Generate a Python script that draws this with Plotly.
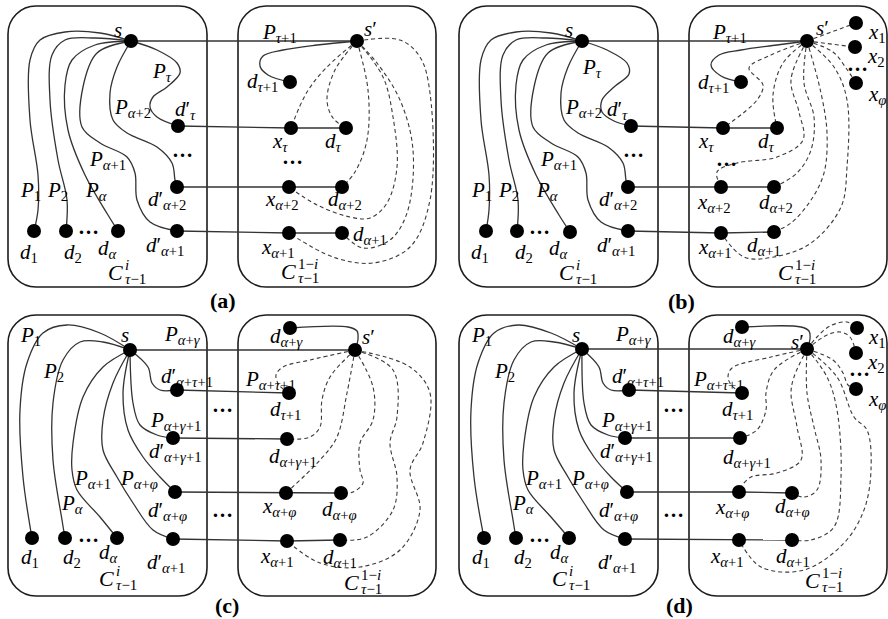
import plotly.graph_objects as go

# ---------------- layout of the four panels (global pixel frame) ----------------
PANEL_ORIGIN = {"a": (0, 0), "b": (451, 0), "c": (0, 309), "d": (451, 309)}
CAPTIONS = {"a": ("(a)", 223, 300), "b": ("(b)", 681, 301), "c": ("(c)", 227, 605), "d": ("(d)", 679, 605)}
LEFT_BOX = (8, 6, 207, 287)
RIGHT_BOX = (238, 6, 436, 287)

# ---------------- nodes (panel-local coordinates) ----------------
NODES_A = {
    "s": (131, 41), "d1": (34, 231), "d2": (66, 231), "da": (118, 231),
    "dpt": (178, 126), "dpa2": (177, 187), "dpa1": (177, 231),
    "sp": (357, 41), "dt1": (290, 82), "xt": (291, 128), "dt": (346, 128),
    "xa2": (289, 187), "da2": (342, 187), "xa1": (289, 233), "da1": (342, 233),
}
NODES_B = {
    "s": (131, 41), "d1": (35, 231), "d2": (66, 231), "da": (119, 232),
    "dpt": (180, 126), "dpa2": (177, 187), "dpa1": (177, 231),
    "sp": (356, 41), "dt1": (290, 82), "xt": (272, 128), "dt": (326, 128),
    "xa2": (270, 187), "da2": (323, 187), "xa1": (270, 233), "da1": (323, 232),
    "x1": (405, 23), "x2": (404, 47), "xf": (405, 83),
}
NODES_C = {
    "s": (130, 41), "d1": (32, 229), "d2": (65, 229), "da": (117, 229),
    "dpt1": (177, 81), "dpg1": (173, 129), "dpf": (175, 183), "dpa1": (173, 230),
    "sp": (355, 41), "dag": (290, 19), "dt1": (289, 84), "dag1": (287, 130),
    "xaf": (286, 184), "daf": (341, 184), "xa1": (287, 232), "da1": (340, 231),
}
NODES_D = {
    "s": (131, 40), "d1": (33, 229), "d2": (65, 229), "da": (118, 229),
    "dpt1": (178, 81), "dpg1": (174, 129), "dpf": (176, 183), "dpa1": (174, 230),
    "sp": (356, 40), "dag": (291, 18), "dt1": (291, 84), "dag1": (289, 129),
    "xaf": (288, 183), "daf": (341, 184), "xa1": (288, 231), "da1": (341, 231),
    "x1": (406, 19), "x2": (405, 44), "xf": (405, 80),
}

# ---------------- edges: waypoints (node names or panel-local points) ----------------
LEFT_AB_SOLID = [
    ["s", (100, 33), (65, 32), (40, 40), (30, 60), (30, 120), (38, 175), (38, 210), "d1"],
    ["s", (95, 38), (65, 40), (52, 55), (50, 100), (58, 160), (67, 200), "d2"],
    ["s", (95, 45), (72, 60), (65, 85), (68, 130), (85, 175), (108, 215), "da"],
    ["s", (97, 53), (83, 87), (82, 127), (100, 143), (127, 157), (135, 173), (137, 200), (150, 222), "dpa1"],
    ["s", (117, 67), (110, 93), (113, 120), (127, 133), (157, 147), (172, 163), (175, 180), "dpa2"],
]
PTAU_A = ["s", (157, 50), (177, 63), (180, 73), (167, 87), (153, 97), (150, 107), (157, 117), "dpt"]
PTAU_B = ["s", (156, 50), (176, 63), (178, 74), (163, 87), (151, 100), (151, 112), (163, 121), "dpt"]
STRAIGHT_AB = [["s", "sp"], ["dpt", "xt", "dt"], ["dpa2", "xa2", "da2"], ["dpa1", "xa1", "da1"]]

A_SOLID = [["sp", (317, 45), (283, 50), (263, 56), (260, 66), (268, 75), "dt1"]]
A_DASHED = [
    ["sp", (327, 67), (307, 92), "xt"],
    ["sp", (335, 70), (327, 100), (333, 118), "dt"],
    ["sp", (368, 90), (367, 140), (355, 172), "da2"],
    ["sp", (383, 77), (393, 117), (397, 167), (387, 203), (370, 218), (350, 217), (317, 205), "xa2"],
    ["sp", (377, 63), (400, 100), (413, 150), (407, 213), (390, 240), (363, 248), "da1"],
    ["sp", (400, 40), (420, 57), (430, 93), (430, 200), (410, 247), (373, 263), (333, 257), "xa1"],
]
B_SOLID = [["sp", (326, 45), (290, 50), (268, 55), (260, 65), (270, 76), "dt1"]]
B_DASHED = [
    ["sp", "x1"],
    ["sp", "x2"],
    ["sp", (382, 52), (395, 68), "xf"],
    ["sp", (320, 55), (298, 68), (312, 85), (306, 100), "xt"],
    ["sp", (332, 63), (322, 95), "dt"],
    ["sp", (340, 80), (348, 112), (352, 140), (326, 157), (286, 163), (266, 172), "xa2"],
    ["sp", (353, 83), (363, 117), (360, 150), (346, 173), "da2"],
    ["sp", (370, 93), (376, 133), (373, 173), (360, 200), (340, 223), "da1"],
    ["sp", (383, 67), (396, 100), (396, 167), (390, 207), (360, 243), (323, 257), (293, 257), "xa1"],
]

LEFT_CD_SOLID = [
    ["s", (100, 24), (67, 16), (43, 24), (27, 54), (20, 101), (23, 168), "d1"],
    ["s", (103, 33), (80, 33), (63, 51), (53, 94), (53, 151), (62, 211), "d2"],
    ["s", (103, 58), (83, 88), (73, 134), (72, 161), (77, 181), (100, 208), "da"],
    ["s", (113, 74), (103, 111), (103, 141), (117, 168), (133, 194), (153, 221), "dpa1"],
    ["s", (123, 84), (128, 121), (143, 148), (160, 168), "dpf"],
    ["s", (133, 94), (140, 116), (157, 126), "dpg1"],
    ["s", (148, 58), (152, 74), (160, 81), "dpt1"],
]
STRAIGHT_CD = [["s", "sp"], ["dpt1", "dt1"], ["dpg1", "dag1"], ["dpf", "xaf", "daf"], ["dpa1", "xa1", "da1"]]
C_SOLID = [["sp", (358, 30), (357, 22), (348, 18), "dag"]]
C_DASHED = [
    ["sp", (310, 51), (283, 58), (276, 66), (279, 76), "dt1"],
    ["sp", (330, 68), (322, 91), (320, 118), (310, 128), "dag1"],
    ["sp", (347, 84), (337, 128), (320, 151), "xaf"],
    ["sp", (373, 78), (373, 111), (360, 134), (360, 161), (363, 174), (353, 183), "daf"],
    ["sp", (393, 61), (397, 108), (390, 134), (397, 168), (393, 201), (367, 228), "da1"],
    ["sp", (410, 58), (430, 84), (423, 134), (410, 161), (420, 201), (400, 241), (360, 258), (320, 254), "xa1"],
]
D_SOLID = [["sp", (359, 30), (358, 22), (350, 18), "dag"]]
D_DASHED = [
    ["sp", (366, 28), (379, 17), (396, 13), "x1"],
    ["sp", (376, 26), (389, 23), (399, 28), "x2"],
    ["sp", (382, 51), (392, 64), (397, 76), "xf"],
    ["sp", (320, 48), (281, 59), (277, 68), (281, 77), "dt1"],
    ["sp", (323, 61), (315, 84), (315, 101), (306, 121), "dag1"],
    ["sp", (343, 68), (340, 84), (346, 118), (350, 151), (326, 164), (300, 168), (290, 178), "xaf"],
    ["sp", (356, 84), (363, 118), (370, 151), (366, 181), (353, 188), "daf"],
    ["sp", (376, 68), (386, 101), (390, 168), (383, 218), (360, 231), "da1"],
    ["sp", (386, 68), (403, 108), (416, 121), (420, 161), (413, 201), (393, 234), (353, 261), (310, 258), "xa1"],
]

# ---------------- labels: (main, subscript, x, y) panel-local centres ----------------
DOTS = "…"
LEFT_AB_LABELS = [
    ("s", "", 118, 30), ("P", "α+2", 132, 108), (DOTS, "", 182, 150),
    ("P", "α+1", 107, 160), ("P", "1", 30, 191), ("P", "2", 57, 191), ("P", "α", 96, 191),
    ("d", "1", 29, 253), ("d", "2", 73, 253), (DOTS, "", 88, 227), ("d", "α", 107, 249),
    ("d′", "α+2", 167, 200), ("d′", "α+1", 165, 246),
]
A_LABELS = LEFT_AB_LABELS + [
    ("P", "τ", 162, 72), ("d′", "τ", 185, 110),
    ("s′", "", 370, 29), ("P", "τ+1", 279, 33), ("d", "τ+1", 262, 82),
    ("x", "τ", 280, 142), ("d", "τ", 333, 142), (DOTS, "", 292, 157),
    ("x", "α+2", 282, 200), ("d", "α+2", 345, 200), ("x", "α+1", 278, 248), ("d", "α+1", 370, 235),
]
B_LABELS = LEFT_AB_LABELS + [
    ("P", "τ", 141, 68), ("d′", "τ", 166, 110),
    ("s′", "", 371, 28), ("P", "τ+1", 278, 33), ("d", "τ+1", 262, 83),
    ("x", "τ", 255, 142), ("d", "τ", 315, 142), (DOTS, "", 275, 159),
    ("x", "α+2", 263, 203), ("d", "α+2", 325, 203), ("x", "α+1", 264, 248), ("d", "α+1", 313, 246),
    ("x", "1", 426, 33), ("x", "2", 425, 57), (DOTS, "", 406, 64), ("x", "φ", 426, 95),
]
LEFT_CD_LABELS = [
    ("P", "1", 30, 27), ("s", "", 125, 26), ("P", "α+γ", 182, 26), ("P", "2", 53, 63),
    ("d′", "α+τ+1", 187, 68), (DOTS, "", 222, 96), ("P", "α+γ+1", 175, 112),
    ("d′", "α+γ+1", 175, 143), ("P", "α+1", 92, 170), ("P", "α+φ", 139, 170),
    ("P", "α", 72, 195), ("d′", "α+φ", 167, 202), (DOTS, "", 222, 201),
    ("d", "1", 30, 249), ("d", "2", 72, 249), (DOTS, "", 88, 226), ("d", "α", 108, 244),
    ("d′", "α+1", 166, 254),
]
C_LABELS = LEFT_CD_LABELS + [
    ("d", "α+γ", 287, 28), ("s′", "", 368, 28), ("P", "α+τ+1", 270, 71), ("d", "τ+1", 285, 101),
    ("d", "α+γ+1", 293, 148), ("x", "α+φ", 279, 198), ("d", "α+φ", 339, 201),
    ("x", "α+1", 277, 248), ("d", "α+1", 340, 249),
]
D_LABELS = LEFT_CD_LABELS + [
    ("d", "α+γ", 289, 28), ("s′", "", 346, 33), ("P", "α+τ+1", 267, 71), ("d", "τ+1", 286, 101),
    ("d", "α+γ+1", 296, 149), ("x", "α+φ", 281, 199), ("d", "α+φ", 341, 198),
    ("x", "α+1", 276, 248), ("d", "α+1", 342, 248),
    ("x", "1", 426, 29), ("x", "2", 425, 54), (DOTS, "", 408, 60), ("x", "φ", 426, 91),
]
# component labels C^{sup}_{τ−1}: (sup, x of script start, y)
A_COMP = [("i", 124, 272), ("1−i", 297, 271)]
B_COMP = [("i", 124, 272), ("1−i", 343, 272)]
C_COMP = [("i", 115, 269), ("1−i", 360, 273)]
D_COMP = [("i", 117, 269), ("1−i", 370, 271)]

PANELS = {
    "a": (NODES_A, LEFT_AB_SOLID + [PTAU_A] + A_SOLID, STRAIGHT_AB, A_DASHED, A_LABELS, A_COMP),
    "b": (NODES_B, LEFT_AB_SOLID + [PTAU_B] + B_SOLID, STRAIGHT_AB, B_DASHED, B_LABELS, B_COMP),
    "c": (NODES_C, LEFT_CD_SOLID + C_SOLID, STRAIGHT_CD, C_DASHED, C_LABELS, C_COMP),
    "d": (NODES_D, LEFT_CD_SOLID + D_SOLID, STRAIGHT_CD, D_DASHED, D_LABELS, D_COMP),
}

FONT = "Liberation Serif"
INK = "#1c1c1c"


def fmt_sub(s):
    return "".join(f"<i>{ch}</i>" if ch.isalpha() else ch for ch in s)


def label_html(main, sub):
    if main == DOTS:
        return "<b>…</b>"
    html = f"<i>{main[0]}</i>{main[1:]}"
    if sub:
        html += f"<sub>{fmt_sub(sub)}</sub>"
    return html


def resolve(p, nodes):
    return nodes[p] if isinstance(p, str) else p


def rounded_rect(x0, y0, x1, y1, r):
    k = 0.5523 * r
    return (f"M{x0 + r},{y0} L{x1 - r},{y0} C{x1 - r + k},{y0} {x1},{y0 + r - k} {x1},{y0 + r} "
            f"L{x1},{y1 - r} C{x1},{y1 - r + k} {x1 - r + k},{y1} {x1 - r},{y1} "
            f"L{x0 + r},{y1} C{x0 + r - k},{y1} {x0},{y1 - r + k} {x0},{y1 - r} "
            f"L{x0},{y0 + r} C{x0},{y0 + r - k} {x0 + r - k},{y0} {x0 + r},{y0} Z")


fig = go.Figure()
annotations = []
shapes = []


def add_curve(pts, ox, oy, nodes, dashed=False, straight=False):
    P = [resolve(p, nodes) for p in pts]
    fig.add_trace(go.Scatter(
        x=[ox + p[0] for p in P], y=[oy + p[1] for p in P], mode="lines",
        line=dict(color="#333333" if not dashed else "#3a3a3a", width=1.3 if not dashed else 1.1,
                  dash="4px,3px" if dashed else "solid",
                  shape="linear" if (straight or len(P) == 2) else "spline", smoothing=1.0),
        hoverinfo="skip"))


for key, (nodes, solid, straight, dashed, labels, comps) in PANELS.items():
    ox, oy = PANEL_ORIGIN[key]
    for box in (LEFT_BOX, RIGHT_BOX):
        shapes.append(dict(type="path", path=rounded_rect(ox + box[0], oy + box[1], ox + box[2], oy + box[3], 28),
                           line=dict(color=INK, width=1.6), layer="below", xref="x", yref="y"))
    for c in straight:
        add_curve(c, ox, oy, nodes, straight=True)
    for c in solid:
        add_curve(c, ox, oy, nodes)
    for c in dashed:
        add_curve(c, ox, oy, nodes, dashed=True)
    names = list(nodes.keys())
    fig.add_trace(go.Scatter(
        x=[ox + nodes[n][0] for n in names], y=[oy + nodes[n][1] for n in names], mode="markers",
        marker=dict(size=14, color="black", line=dict(width=0)), hoverinfo="skip"))
    for main, sub, x, y in labels:
        annotations.append(dict(x=ox + x, y=oy + y, text=label_html(main, sub), showarrow=False,
                                xanchor="center", yanchor="middle",
                                font=dict(family=FONT, size=21, color="black")))
    for sup, xs, y in comps:
        annotations.append(dict(x=ox + xs + 1, y=oy + y, text="<i>C</i>", showarrow=False,
                                xanchor="right", yanchor="middle", font=dict(family=FONT, size=22, color="black")))
        annotations.append(dict(x=ox + xs - 1, y=oy + y - 7, text=fmt_sub(sup), showarrow=False,
                                xanchor="left", yanchor="middle", font=dict(family=FONT, size=15, color="black")))
        annotations.append(dict(x=ox + xs - 1, y=oy + y + 7, text=fmt_sub("τ−1"), showarrow=False,
                                xanchor="left", yanchor="middle", font=dict(family=FONT, size=15, color="black")))
    cap, cx, cy = CAPTIONS[key]
    annotations.append(dict(x=cx, y=cy, text=f"<b>{cap}</b>", showarrow=False, xanchor="center",
                            yanchor="middle", font=dict(family=FONT, size=22, color="black")))

fig.update_layout(
    width=888, height=619, margin=dict(l=0, r=0, t=0, b=0, pad=0),
    paper_bgcolor="white", plot_bgcolor="white", showlegend=False,
    xaxis=dict(range=[0, 888], visible=False, fixedrange=True),
    yaxis=dict(range=[619, 0], visible=False, fixedrange=True),
    shapes=shapes, annotations=annotations,
)
fig.write_html("out.html", config={"displayModeBar": False},
               post_script="document.body.style.margin='0';document.body.style.padding='0';")
